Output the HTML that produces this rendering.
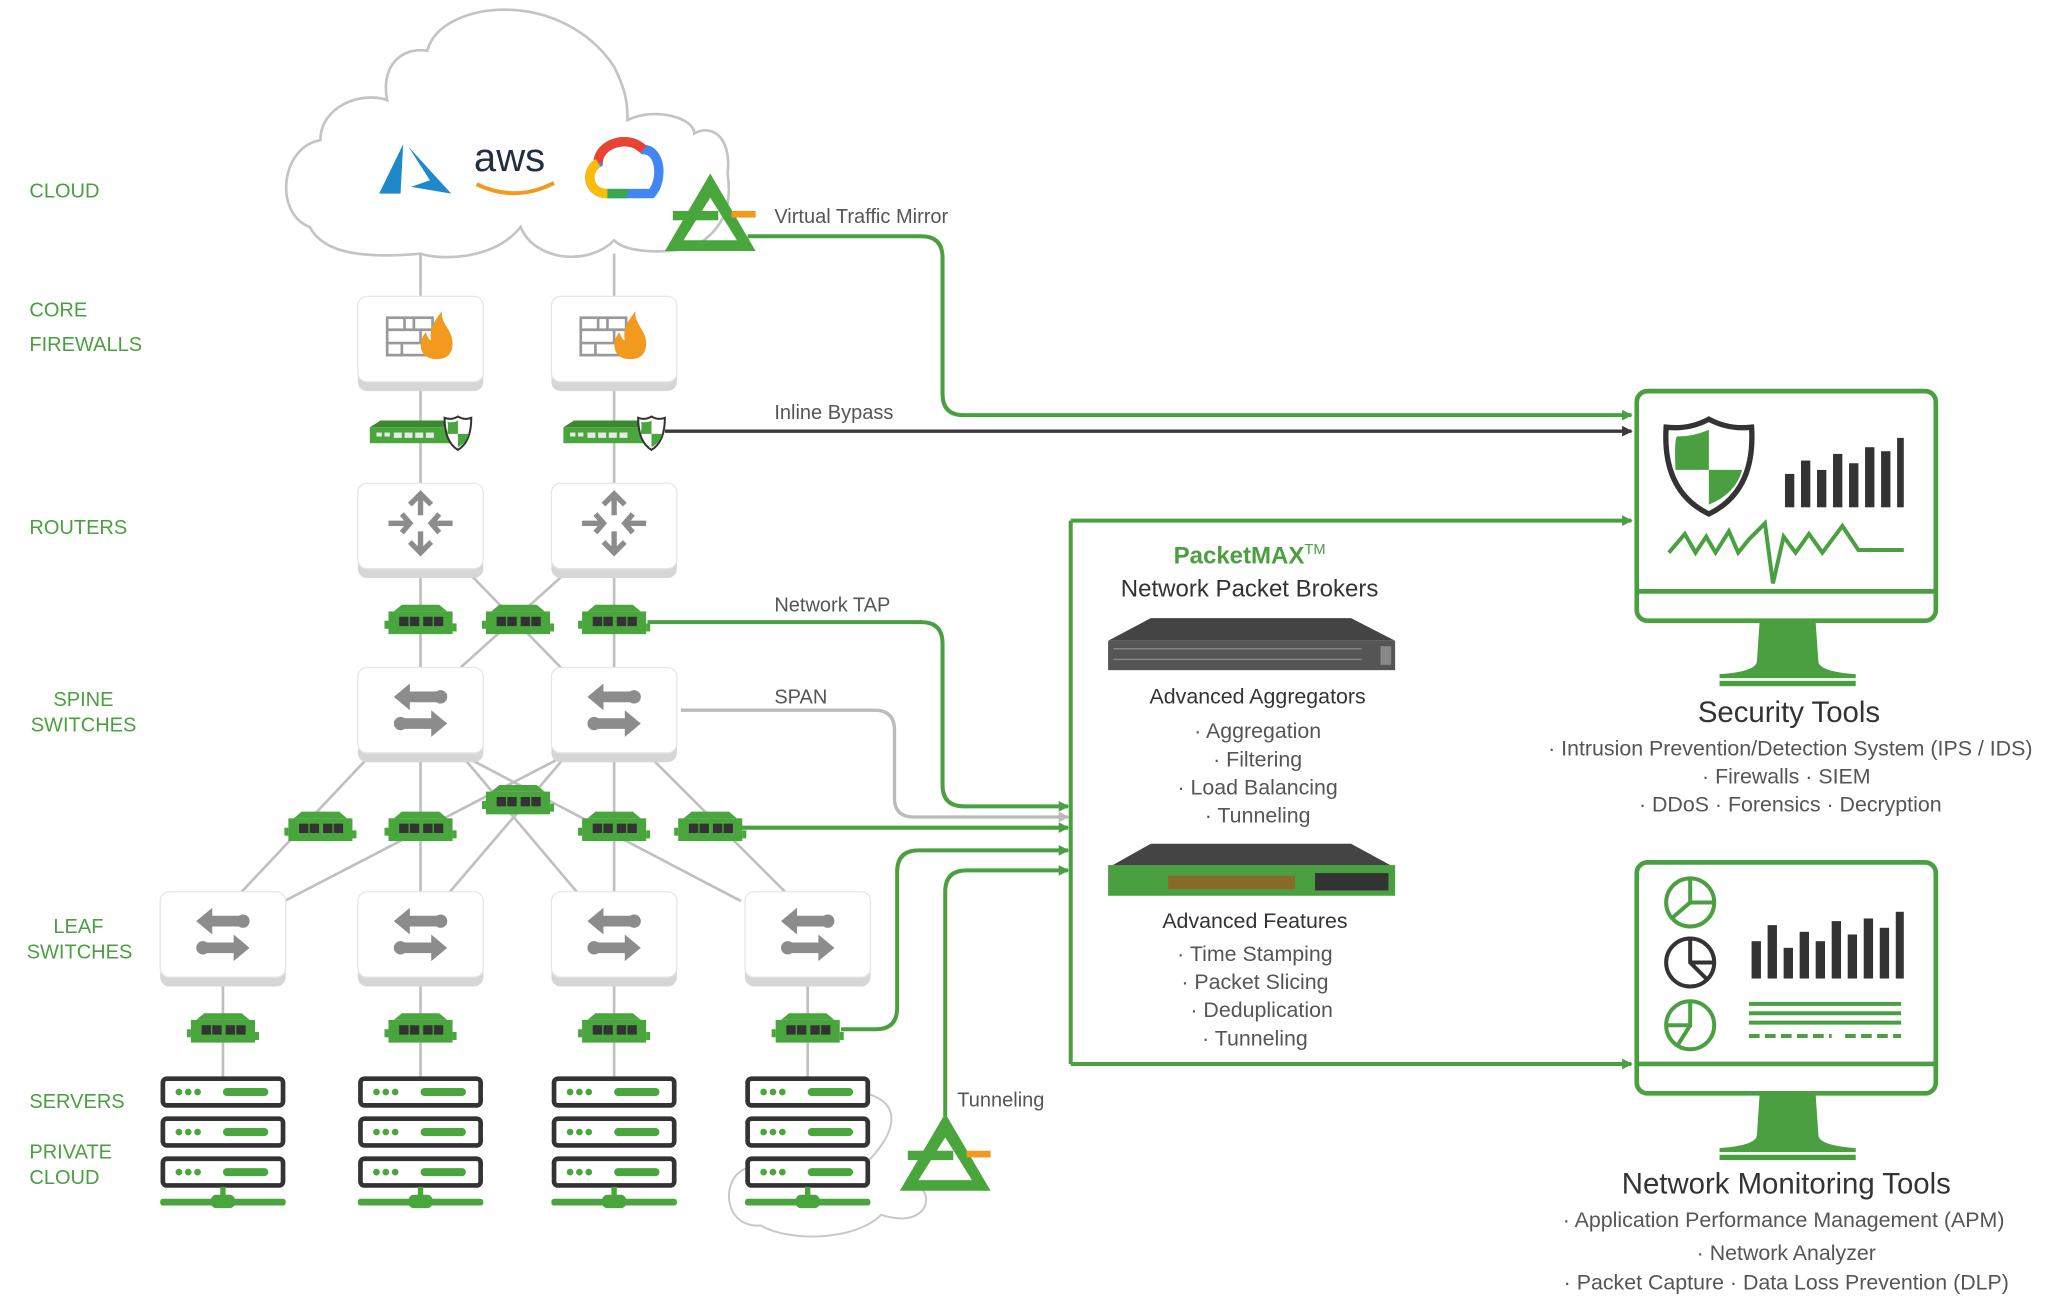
<!DOCTYPE html>
<html><head><meta charset="utf-8"><style>
html,body{margin:0;padding:0;background:#fff;}
svg{display:block;}
text{font-family:"Liberation Sans",sans-serif;}
</style></head><body>
<svg width="2072" height="1300" viewBox="0 0 1552 973.8" preserveAspectRatio="none" xmlns="http://www.w3.org/2000/svg">
<defs>
<marker id="ag" markerWidth="8" markerHeight="8" refX="7" refY="4" orient="auto" markerUnits="userSpaceOnUse"><path d="M0,0 L8,4 L0,8Z" fill="#4aa040"/></marker>
<marker id="ad" markerWidth="8" markerHeight="8" refX="7" refY="4" orient="auto" markerUnits="userSpaceOnUse"><path d="M0,0 L8,4 L0,8Z" fill="#3a3a3a"/></marker>
<marker id="ay" markerWidth="8" markerHeight="8" refX="7" refY="4" orient="auto" markerUnits="userSpaceOnUse"><path d="M0,0 L8,4 L0,8Z" fill="#bbb"/></marker>
<g id="box"><rect x="-47" y="-28" width="94" height="66" rx="7" fill="#d6d6d6"/><rect x="-47" y="-33" width="94" height="64" rx="7" fill="#fff" stroke="#e6e6e6"/></g>
<g id="tap"><path d="M-20,-9 L-14,-14 L14,-14 L20,-9Z" fill="#49a63d"/><rect x="-24" y="-9" width="48" height="17" fill="#49a63d"/><rect x="-27" y="-2" width="3" height="6" fill="#49a63d"/><rect x="24" y="0" width="3" height="6" fill="#49a63d"/>
<rect x="-16" y="-5" width="7" height="7" fill="#333"/><rect x="-8" y="-5" width="7" height="7" fill="#333"/><rect x="2" y="-5" width="7" height="7" fill="#333"/><rect x="10" y="-5" width="7" height="7" fill="#333"/></g>
<g id="sw"><path d="M-20,-10 L-8,-20 L-8,-14 L14,-14 L14,-6 L-8,-6 L-8,0Z" fill="#8c8c8c"/><circle cx="15" cy="-10" r="5" fill="#8c8c8c"/><path d="M20,10 L8,0 L8,6 L-14,6 L-14,14 L8,14 L8,20Z" fill="#8c8c8c"/><circle cx="-15" cy="10" r="5" fill="#8c8c8c"/></g>
<g id="rt" stroke="#8c8c8c" stroke-width="4" fill="none"><path d="M0,-22 L0,-6 M-8,-14 L0,-22 L8,-14"/><path d="M0,22 L0,6 M-8,14 L0,22 L8,14"/><path d="M-24,0 L-8,0 M-14,-7 L-8,0 L-14,7"/><path d="M24,0 L8,0 M14,-7 L8,0 L14,7"/></g>
<g id="fw"><g stroke="#999" stroke-width="2" fill="none"><rect x="-25" y="-15" width="34" height="28"/><path d="M-25,-6 H9 M-25,4 H9 M-12,-15 V-6 M0,-6 V4 M-14,4 V13 M-5,-15V-6"/></g><path d="M12,16 C-2,16 -2,2 4,-4 C6,2 8,2 8,2 C6,-8 12,-14 16,-20 C15,-10 24,-6 24,4 C24,12 20,16 12,16Z" fill="#f39a1e"/></g>
<g id="byp"><path d="M-38,-5 L-30,-10 L22,-10 L28,-5Z" fill="#3a8a30"/><rect x="-38" y="-5" width="64" height="12" fill="#49a63d"/><g fill="#e8e8e8"><rect x="-33" y="-1" width="4" height="3"/><rect x="-27" y="-1" width="4" height="3"/><rect x="-20" y="-1" width="6" height="4"/><rect x="-12" y="-1" width="6" height="4"/><rect x="-4" y="-1" width="6" height="4"/><rect x="4" y="-1" width="6" height="4"/></g>
<path d="M28,-13 Q33,-10 38,-12 Q38,6 28,12 Q18,6 18,-12 Q23,-10 28,-13Z" fill="#fff" stroke="#333" stroke-width="1.5"/><path d="M28,-10 L28,0 L20,0 Q21,-8 20,-9 Q25,-8 28,-10Z M28,0 L36,0 Q35,6 28,10Z" fill="#49a63d"/></g>
<g id="srv"><g fill="#fff" stroke="#333" stroke-width="3.5"><rect x="-45" y="-47" width="90" height="20" rx="3"/><rect x="-45" y="-17" width="90" height="20" rx="3"/><rect x="-45" y="13" width="90" height="20" rx="3"/></g>
<g fill="#49a63d"><circle cx="-33" cy="-37" r="2.5"/><circle cx="-26" cy="-37" r="2.5"/><circle cx="-19" cy="-37" r="2.5"/><rect x="0" y="-40" width="34" height="6" rx="3"/><circle cx="-33" cy="-7" r="2.5"/><circle cx="-26" cy="-7" r="2.5"/><circle cx="-19" cy="-7" r="2.5"/><rect x="0" y="-10" width="34" height="6" rx="3"/><circle cx="-33" cy="23" r="2.5"/><circle cx="-26" cy="23" r="2.5"/><circle cx="-19" cy="23" r="2.5"/><rect x="0" y="20" width="34" height="6" rx="3"/>
<rect x="-2" y="34" width="4" height="9"/><rect x="-47" y="43" width="94" height="5" rx="2"/><rect x="-9" y="40" width="18" height="10" rx="4"/></g></g>
<g id="tri"><path d="M0,0 L34,58 L-34,58Z M0,18 L-20,50 L20,50Z" fill="#49a63d" fill-rule="evenodd"/><rect x="-28" y="28" width="34" height="7" fill="#49a63d"/><rect x="16" y="28" width="18" height="5" fill="#f39a1e"/></g>
</defs>

<!-- left labels -->
<g fill="#4aa040" font-size="15">
<text x="22" y="148">CLOUD</text><text x="22" y="237">CORE</text><text x="22" y="263">FIREWALLS</text><text x="22" y="400">ROUTERS</text>
<text x="40" y="529">SPINE</text><text x="23" y="548">SWITCHES</text><text x="40" y="699">LEAF</text><text x="20" y="718">SWITCHES</text>
<text x="22" y="830">SERVERS</text><text x="22" y="868">PRIVATE</text><text x="22" y="887">CLOUD</text></g>

<!-- cloud -->
<path d="M315,190 C260,195 240,185 232,170 C205,160 210,110 240,105 C240,80 270,68 290,75 C285,50 300,35 320,38 C330,0 420,-10 460,50 C470,70 470,80 470,90 C490,80 520,88 520,100 C535,92 548,105 545,130 C548,150 545,170 520,185 C500,190 470,190 460,180 C440,200 400,195 390,170 C370,195 330,195 315,190Z" fill="#fff" stroke="#c4c4c4" stroke-width="2"/>
<path d="M302,108 L284,145 L300,145Z M306,110 L322,135 L308,140 L338,145 Z" fill="#1e88c8"/>
<text x="355" y="128" font-size="30" fill="#232f3e" font-weight="normal">aws</text>
<path d="M357,138 Q386,152 415,137" stroke="#f39a1e" stroke-width="3" fill="none"/>
<path d="M455,145 C440,145 438,128 448,122 C448,108 470,100 482,112 C495,112 497,135 488,145Z" fill="none" stroke="#4285f4" stroke-width="7"/>
<path d="M448,122 C448,108 470,100 482,112" fill="none" stroke="#ea4335" stroke-width="7"/>
<path d="M455,145 C440,145 438,128 448,122" fill="none" stroke="#fbbc05" stroke-width="7"/>
<path d="M455,145 L470,145" stroke="#34a853" stroke-width="7"/>
<use href="#tri" x="532" y="130"/>

<!-- gray connectors -->
<g stroke="#c0c0c0" stroke-width="2" fill="none">
<path d="M315,190 V222 M460,190 V222 M315,285 V362 M460,285 V362 M315,425 V500 M460,425 V500"/>
<path d="M350,428 L420,500 M425,428 L345,500"/>
<path d="M278,565 L181,668 M315,565 V668 M345,565 L432,668 M345,565 L555,675 M425,565 L213,675 M425,565 L337,668 M460,565 V668 M485,565 L588,668"/>
<path d="M167,733 V808 M315,733 V808 M460,733 V808 M605,733 V808"/>
<path d="M510,532 H655 Q670,532 670,547 V598 Q670,612 685,612 H800" stroke="#bbb" stroke-width="2.5" marker-end="url(#ay)"/>
</g>
<path d="M652,820 C680,830 665,855 650,870 M560,875 C540,880 540,920 570,918 C590,930 640,930 660,910 C690,920 700,900 690,890" fill="none" stroke="#c8c8c8" stroke-width="1.5"/>

<!-- green connectors -->
<g stroke="#4aa040" stroke-width="3" fill="none" marker-end="url(#ag)">
<path d="M560,177 H690 Q706,177 706,193 V295 Q706,311 722,311 H1222"/>
<path d="M485,466 H690 Q706,466 706,482 V588 Q706,604 722,604 H800"/>
<path d="M555,620 H800"/>
<path d="M630,771 H656 Q672,771 672,755 V653 Q672,637 688,637 H800"/>
<path d="M708,836 V668 Q708,652 724,652 H800"/>
<path d="M802,390 H1222"/>
<path d="M802,797 H1222"/>
</g>
<path d="M802,390 V797" stroke="#4aa040" stroke-width="3"/>
<path d="M498,323 H1222" stroke="#3a3a3a" stroke-width="2.5" fill="none" marker-end="url(#ad)"/>

<g fill="#555" font-size="15"><text x="580" y="167">Virtual Traffic Mirror</text><text x="580" y="314">Inline Bypass</text><text x="580" y="458">Network TAP</text><text x="580" y="527">SPAN</text><text x="717" y="829">Tunneling</text></g>

<!-- boxes -->
<use href="#box" x="315" y="255"/><use href="#box" x="460" y="255"/>
<use href="#fw" x="315" y="253"/><use href="#fw" x="460" y="253"/>
<use href="#byp" x="315" y="325"/><use href="#byp" x="460" y="325"/>
<use href="#box" x="315" y="395"/><use href="#box" x="460" y="395"/>
<use href="#rt" x="315" y="392"/><use href="#rt" x="460" y="392"/>
<use href="#tap" x="315" y="467"/><use href="#tap" x="388" y="467"/><use href="#tap" x="460" y="467"/>
<use href="#box" x="315" y="533"/><use href="#box" x="460" y="533"/>
<use href="#sw" x="315" y="532"/><use href="#sw" x="460" y="532"/>
<use href="#tap" x="240" y="622"/><use href="#tap" x="315" y="622"/><use href="#tap" x="388" y="602"/><use href="#tap" x="460" y="622"/><use href="#tap" x="532" y="622"/>
<use href="#box" x="167" y="701"/><use href="#box" x="315" y="701"/><use href="#box" x="460" y="701"/><use href="#box" x="605" y="701"/>
<use href="#sw" x="167" y="700"/><use href="#sw" x="315" y="700"/><use href="#sw" x="460" y="700"/><use href="#sw" x="605" y="700"/>
<use href="#tap" x="167" y="773"/><use href="#tap" x="315" y="773"/><use href="#tap" x="460" y="773"/><use href="#tap" x="605" y="773"/>
<use href="#srv" x="167" y="855"/><use href="#srv" x="315" y="855"/><use href="#srv" x="460" y="855"/><use href="#srv" x="605" y="855"/>
<use href="#tri" x="708" y="834"/>

<!-- packet broker -->
<text x="936" y="422" text-anchor="middle" font-size="18" font-weight="bold" fill="#4aa040">PacketMAX<tspan font-size="11" dy="-7" font-weight="normal">TM</tspan></text>
<text x="936" y="447" text-anchor="middle" font-size="18" fill="#333">Network Packet Brokers</text>
<path d="M830,480 L862,463 L1012,463 L1045,480Z" fill="#444"/><rect x="830" y="480" width="215" height="22" fill="#555"/>
<g stroke="#888" stroke-width="1"><path d="M834,486 H1020 M834,494 H1020"/></g><rect x="1034" y="484" width="8" height="14" fill="#888"/>
<text x="942" y="527" text-anchor="middle" font-size="16" fill="#333">Advanced Aggregators</text>
<g font-size="16" fill="#555" text-anchor="middle"><text x="942" y="553">· Aggregation</text><text x="942" y="574">· Filtering</text><text x="942" y="595">· Load Balancing</text><text x="942" y="616">· Tunneling</text></g>
<path d="M830,650 L862,632 L1012,632 L1045,650Z" fill="#444"/><rect x="830" y="648" width="215" height="23" fill="#4aa040"/>
<rect x="875" y="656" width="95" height="10" fill="#8a6a2a"/><rect x="985" y="654" width="55" height="13" fill="#333"/>
<text x="940" y="695" text-anchor="middle" font-size="16" fill="#333">Advanced Features</text>
<g font-size="16" fill="#555" text-anchor="middle"><text x="940" y="720">· Time Stamping</text><text x="940" y="741">· Packet Slicing</text><text x="945" y="762">· Deduplication</text><text x="940" y="783">· Tunneling</text></g>

<!-- security monitor -->
<rect x="1226" y="293" width="224" height="172" rx="8" fill="#fff" stroke="#4aa040" stroke-width="3.5"/>
<path d="M1226,443 H1450" stroke="#4aa040" stroke-width="3.5"/>
<path d="M1318,466 L1360,466 L1362,495 Q1362,503 1390,505 L1390,508 L1288,508 L1288,505 Q1316,503 1316,495Z" fill="#4aa040"/><rect x="1288" y="510" width="102" height="4" fill="#4aa040"/>
<path d="M1280,314 Q1295,322 1312,320 Q1315,368 1280,385 Q1245,368 1248,320 Q1265,322 1280,314Z" fill="#fff" stroke="#333" stroke-width="4"/>
<path d="M1280,322 V352 H1255 Q1254,330 1256,327 Q1268,327 1280,322Z M1280,352 H1305 Q1300,370 1280,378Z" fill="#4aa040"/>
<g fill="#333"><rect x="1337" y="355" width="7" height="25"/><rect x="1349" y="345" width="7" height="35"/><rect x="1361" y="352" width="7" height="28"/><rect x="1373" y="340" width="7" height="40"/><rect x="1385" y="347" width="7" height="33"/><rect x="1397" y="335" width="7" height="45"/><rect x="1409" y="338" width="7" height="42"/><rect x="1421" y="328" width="5" height="52"/></g>
<path d="M1250,414 L1262,400 L1270,414 L1278,402 L1285,414 L1295,398 L1302,414 L1310,404 L1322,392 L1328,437 L1336,402 L1345,414 L1355,400 L1365,414 L1380,394 L1392,412 L1426,412" fill="none" stroke="#4aa040" stroke-width="3"/>
<text x="1340" y="541" text-anchor="middle" font-size="22" fill="#333">Security Tools</text>
<g font-size="16" fill="#555" text-anchor="middle"><text x="1341" y="566">· Intrusion Prevention/Detection System (IPS / IDS)</text><text x="1338" y="587">· Firewalls · SIEM</text><text x="1341" y="608">· DDoS · Forensics · Decryption</text></g>

<!-- NM monitor -->
<rect x="1226" y="646" width="224" height="173" rx="8" fill="#fff" stroke="#4aa040" stroke-width="3.5"/>
<path d="M1226,797 H1450" stroke="#4aa040" stroke-width="3.5"/>
<path d="M1318,820 L1360,820 L1362,850 Q1362,858 1390,860 L1390,863 L1288,863 L1288,860 Q1316,858 1316,850Z" fill="#4aa040"/><rect x="1288" y="865" width="102" height="4" fill="#4aa040"/>
<g fill="none" stroke-width="3"><circle cx="1266" cy="676" r="18" stroke="#4aa040"/><path d="M1266,658 V676 H1284 M1266,676 L1252,688" stroke="#4aa040"/>
<circle cx="1266" cy="721" r="18" stroke="#333"/><path d="M1266,703 V721 L1279,734 M1266,721 H1284" stroke="#333"/>
<circle cx="1266" cy="768" r="18" stroke="#4aa040"/><path d="M1266,750 V768 H1248 M1266,768 L1256,784" stroke="#4aa040"/></g>
<g fill="#333"><rect x="1312" y="705" width="7" height="28"/><rect x="1324" y="693" width="7" height="40"/><rect x="1336" y="710" width="7" height="23"/><rect x="1348" y="698" width="7" height="35"/><rect x="1360" y="705" width="7" height="28"/><rect x="1372" y="690" width="7" height="43"/><rect x="1384" y="700" width="7" height="33"/><rect x="1396" y="688" width="7" height="45"/><rect x="1408" y="695" width="7" height="38"/><rect x="1420" y="683" width="6" height="50"/></g>
<g stroke="#4aa040" stroke-width="3"><path d="M1310,752 H1424 M1310,759 H1424 M1310,766 H1424"/><path d="M1310,776 H1372 M1382,776 H1424" stroke-dasharray="8,4"/></g>
<text x="1338" y="894" text-anchor="middle" font-size="22" fill="#333">Network Monitoring Tools</text>
<g font-size="16" fill="#555" text-anchor="middle"><text x="1336" y="919">· Application Performance Management (APM)</text><text x="1338" y="944">· Network Analyzer</text><text x="1338" y="966">· Packet Capture · Data Loss Prevention (DLP)</text></g>
</svg>
</body></html>
